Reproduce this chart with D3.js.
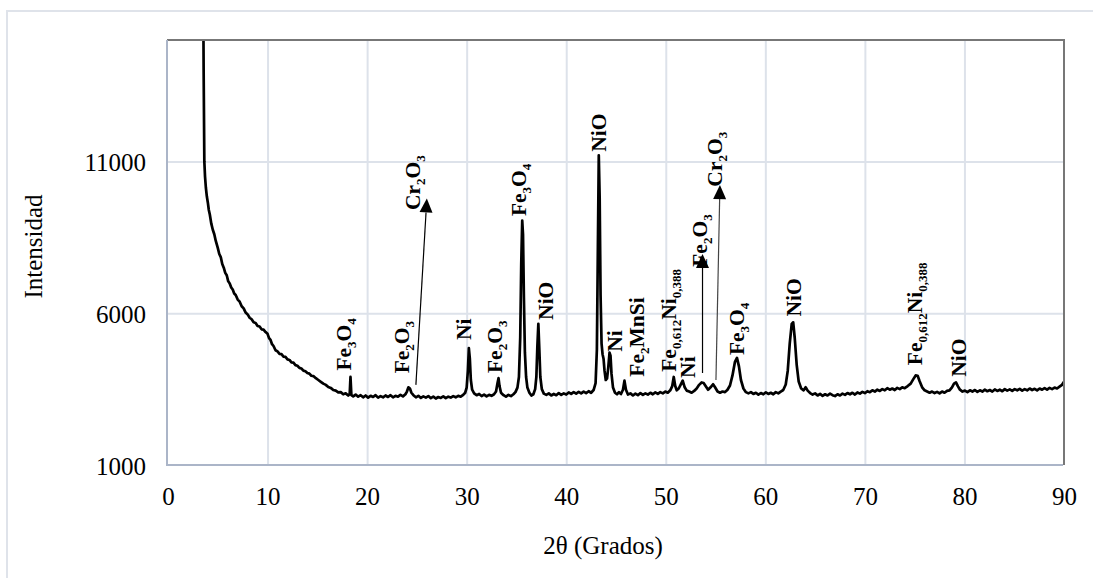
<!DOCTYPE html>
<html>
<head>
<meta charset="utf-8">
<script src="https://cdn.jsdelivr.net/npm/d3@7"></script>
<style>
  body { margin: 0; background: #fff; }
  text { font-family: "Liberation Serif", "Times New Roman", serif; }
</style>
</head>
<body>
<svg id="chart" width="1093" height="578"></svg>
<script>
// ticks
const xTicks = [0, 10, 20, 30, 40, 50, 60, 70, 80, 90];
const yTicks = [1000, 6000, 11000];

// difractograma: [2theta, intensidad]
const scan = [
  [3.5,19000],[3.58,14000],[3.65,11000],[3.72,10500],[3.8,10150],[3.9,9850],[4.0,9650],[4.1,9400],[4.2,9250],
  [4.35,8950],[4.5,8750],[4.65,8600],[4.8,8380],[5.0,8150],[5.15,7950],[5.3,7850],[5.45,7620],[5.6,7500],
  [5.75,7330],[5.9,7250],[6.05,7050],[6.2,6980],[6.35,6850],[6.5,6780],[6.65,6650],[6.8,6600],[7.0,6450],
  [7.2,6380],[7.4,6230],[7.6,6160],[7.8,6020],[8.0,5960],[8.2,5850],[8.4,5800],[8.6,5700],[8.8,5680],
  [9.0,5580],[9.2,5560],[9.4,5470],[9.6,5460],[9.8,5380],[10.0,5320],[10.15,5180],[10.3,5120],[10.45,4980],
  [10.6,4920],[10.8,4780],[11.0,4740],[11.2,4660],[11.4,4650],[11.6,4570],[11.8,4560],[12.0,4480],[12.2,4460],
  [12.4,4380],[12.6,4370],[12.8,4290],[13.0,4270],[13.2,4200],[13.4,4180],[13.6,4110],[13.8,4090],[14.0,4030],
  [14.2,4010],[14.4,3940],[14.6,3930],[14.85,3860],[15.1,3800],[15.35,3740],[15.6,3680],[15.85,3640],[16.1,3570],
  [16.35,3540],[16.6,3470],[16.85,3450],[17.1,3390],[17.35,3400],[17.6,3330],[17.85,3360],[18.1,3290],[18.25,3340],
  [18.33,3900],[18.42,3300],[18.6,3260],[18.85,3320],[19.1,3250],[19.35,3300],[19.6,3230],[19.85,3290],[20.1,3220],
  [20.35,3280],[20.6,3240],[20.85,3300],[21.1,3220],[21.35,3270],[21.6,3230],[21.85,3290],[22.1,3240],[22.35,3300],
  [22.6,3230],[22.85,3280],[23.1,3250],[23.35,3310],[23.6,3260],[23.85,3330],[24.0,3420],[24.15,3560],[24.3,3520],
  [24.45,3380],[24.65,3300],[24.9,3230],[25.15,3280],[25.4,3210],[25.65,3260],[25.9,3220],[26.15,3270],[26.4,3200],
  [26.65,3250],[26.9,3190],[27.15,3240],[27.4,3210],[27.65,3260],[27.9,3200],[28.15,3250],[28.4,3220],[28.65,3270],
  [28.9,3230],[29.15,3280],[29.4,3250],[29.65,3310],[29.85,3380],[30.0,3550],[30.12,4100],[30.22,4850],[30.32,4500],
  [30.42,3800],[30.55,3480],[30.75,3360],[31.0,3300],[31.25,3340],[31.5,3270],[31.75,3320],[32.0,3260],[32.25,3310],
  [32.5,3280],[32.75,3330],[32.95,3420],[33.1,3700],[33.2,3860],[33.3,3600],[33.45,3380],[33.7,3300],[33.95,3250],
  [34.2,3310],[34.45,3270],[34.7,3330],[34.9,3400],[35.1,3550],[35.25,3900],[35.38,5200],[35.48,7600],[35.58,9050],
  [35.66,8600],[35.75,6500],[35.85,4700],[35.97,3900],[36.1,3550],[36.3,3380],[36.5,3290],[36.7,3330],[36.88,3500],
  [37.0,3900],[37.1,4900],[37.2,5650],[37.3,4800],[37.4,3900],[37.55,3500],[37.75,3350],[38.0,3310],[38.25,3360],
  [38.5,3290],[38.75,3340],[39.0,3300],[39.25,3370],[39.5,3310],[39.75,3360],[40.0,3320],[40.25,3390],[40.5,3340],
  [40.75,3400],[41.0,3350],[41.25,3410],[41.5,3360],[41.75,3420],[42.0,3370],[42.25,3430],[42.5,3380],[42.75,3470],
  [42.95,3700],[43.08,4800],[43.18,8200],[43.27,11200],[43.36,9800],[43.45,6600],[43.55,5000],[43.65,4650],[43.75,4500],
  [43.85,4100],[43.97,3800],[44.1,3850],[44.22,4200],[44.35,4700],[44.45,4600],[44.55,4000],[44.7,3550],[44.9,3380],
  [45.1,3330],[45.3,3400],[45.5,3340],[45.7,3480],[45.85,3780],[46.0,3480],[46.2,3320],[46.45,3360],[46.7,3290],
  [46.95,3350],[47.2,3300],[47.45,3370],[47.7,3310],[47.95,3360],[48.2,3320],[48.45,3380],[48.7,3330],[48.95,3390],
  [49.2,3340],[49.45,3400],[49.7,3360],[49.95,3420],[50.2,3380],[50.45,3460],[50.65,3600],[50.8,3900],[50.95,3600],
  [51.1,3460],[51.3,3520],[51.5,3650],[51.7,3780],[51.9,3560],[52.1,3450],[52.35,3420],[52.6,3380],[52.85,3440],
  [53.1,3520],[53.35,3640],[53.6,3720],[53.8,3700],[54.0,3600],[54.25,3480],[54.5,3560],[54.75,3660],[54.95,3560],
  [55.2,3420],[55.45,3380],[55.7,3420],[55.95,3400],[56.2,3480],[56.45,3620],[56.7,3950],[56.95,4400],[57.15,4530],
  [57.35,4250],[57.55,3800],[57.8,3520],[58.05,3400],[58.3,3360],[58.55,3400],[58.8,3340],[59.05,3380],[59.3,3320],
  [59.55,3370],[59.8,3330],[60.05,3390],[60.3,3340],[60.55,3380],[60.8,3330],[61.05,3400],[61.3,3360],[61.55,3420],
  [61.8,3470],[62.05,3650],[62.25,4100],[62.45,5000],[62.65,5650],[62.8,5700],[62.95,5200],[63.15,4300],[63.35,3750],
  [63.6,3520],[63.85,3460],[64.05,3560],[64.25,3450],[64.5,3370],[64.75,3320],[65.0,3360],[65.25,3290],[65.5,3340],
  [65.75,3280],[66.0,3330],[66.25,3290],[66.5,3350],[66.75,3300],[67.0,3270],[67.25,3330],[67.5,3290],[67.75,3350],
  [68.0,3310],[68.25,3370],[68.5,3330],[68.75,3380],[69.0,3320],[69.25,3390],[69.5,3350],[69.75,3410],[70.0,3370],
  [70.25,3430],[70.5,3400],[70.75,3460],[71.0,3420],[71.25,3480],[71.5,3440],[71.75,3500],[72.0,3460],[72.25,3530],
  [72.5,3480],[72.75,3520],[73.0,3470],[73.25,3540],[73.5,3500],[73.75,3560],[74.0,3530],[74.3,3600],[74.6,3680],
  [74.85,3820],[75.1,3950],[75.3,3940],[75.5,3760],[75.75,3560],[76.0,3460],[76.25,3420],[76.5,3380],[76.75,3420],
  [77.0,3370],[77.25,3410],[77.5,3360],[77.75,3420],[78.0,3380],[78.25,3440],[78.5,3460],[78.75,3560],[78.95,3680],
  [79.15,3720],[79.35,3590],[79.55,3480],[79.8,3420],[80.05,3450],[80.3,3400],[80.55,3460],[80.8,3420],[81.05,3470],
  [81.3,3410],[81.55,3460],[81.8,3420],[82.05,3480],[82.3,3430],[82.55,3470],[82.8,3420],[83.05,3490],[83.3,3440],
  [83.55,3480],[83.8,3430],[84.05,3500],[84.3,3450],[84.55,3490],[84.8,3440],[85.05,3500],[85.3,3460],[85.55,3510],
  [85.8,3450],[86.05,3500],[86.3,3460],[86.55,3520],[86.8,3470],[87.05,3510],[87.3,3460],[87.55,3520],[87.8,3480],
  [88.05,3530],[88.3,3480],[88.55,3540],[88.8,3500],[89.05,3550],[89.3,3520],[89.55,3580],[89.8,3640],[90.0,3740]
];

// fases identificadas: partes del nombre (pares = normal, impares = subindice)
const phaseNames = [
  ["Fe","3","O","4"], ["Fe","2","O","3"], ["Ni"], ["Fe","2","O","3"], ["Fe","3","O","4"], ["NiO"],
  ["Cr","2","O","3"], ["NiO"], ["Ni"], ["Fe","2","MnSi"], ["Fe","0,612","Ni","0,388"], ["Ni"],
  ["Fe","2","O","3"], ["Cr","2","O","3"], ["Fe","3","O","4"], ["NiO"], ["Fe","0,612","Ni","0,388"], ["NiO"]
];
// donde empieza cada etiqueta [2theta, intensidad]
const phaseAt = [
  [18.4,4110], [24.2,4020], [30.4,5120], [33.55,4030], [35.95,9200], [38.65,5780],
  [25.3,9400], [43.95,11320], [45.6,4730], [47.8,3910], [51.0,4070], [52.95,3870],
  [54.15,7530], [55.65,10170], [57.85,4620], [63.6,5890], [75.75,4290], [80.15,3910]
];
// flechas [desde, hasta]
const arrowFrom = [[24.9,3640], [53.69,4030], [55.04,3800]];
const arrowTo = [[26.0,9780], [53.69,7950], [55.44,10220]];

const svg = d3.select("#chart");
const m = { left: 168, right: 1064, top: 40, bottom: 465 };

const x = d3.scaleLinear().domain([0, 90]).range([m.left, m.right]);
const y = d3.scaleLinear().domain([1000, 15000]).range([m.bottom, m.top]);

// marco exterior
svg.append("rect")
  .attr("x", 7).attr("y", 11)
  .attr("width", 1200).attr("height", 700)
  .attr("fill", "none")
  .attr("stroke", "#dfe3ea")
  .attr("stroke-width", 2);

// rejilla
svg.append("g")
  .attr("transform", `translate(0,${m.bottom})`)
  .call(d3.axisBottom(x).tickValues(xTicks.slice(1, -1)).tickSize(-(m.bottom - m.top)).tickFormat(""))
  .call(g => g.select(".domain").remove())
  .call(g => g.selectAll("line").attr("stroke", "#dde2ea").attr("stroke-width", 2));

svg.append("g")
  .attr("transform", `translate(${m.left},0)`)
  .call(d3.axisLeft(y).tickValues(yTicks.slice(1)).tickSize(-(m.right - m.left)).tickFormat(""))
  .call(g => g.select(".domain").remove())
  .call(g => g.selectAll("line").attr("stroke", "#dde2ea").attr("stroke-width", 2));

// curva
svg.append("clipPath").attr("id", "plot")
  .append("rect")
  .attr("x", m.left).attr("y", m.top)
  .attr("width", m.right - m.left).attr("height", m.bottom - m.top);

const line = d3.line()
  .x(d => x(d[0]))
  .y(d => y(d[1]));

svg.append("path")
  .datum(scan)
  .attr("clip-path", "url(#plot)")
  .attr("d", line)
  .attr("fill", "none")
  .attr("stroke", "#000")
  .attr("stroke-width", 2.7)
  .attr("stroke-linejoin", "round");

// bordes
svg.append("line")
  .attr("x1", m.left - 1).attr("x2", m.right + 1).attr("y1", m.top).attr("y2", m.top)
  .attr("stroke", "#777").attr("stroke-width", 2);
svg.append("line")
  .attr("x1", m.right).attr("x2", m.right).attr("y1", m.top).attr("y2", m.bottom)
  .attr("stroke", "#777").attr("stroke-width", 2);
svg.append("line")
  .attr("x1", m.left - 1).attr("x2", m.left - 1).attr("y1", m.top).attr("y2", m.bottom + 1)
  .attr("stroke", "#abb5c8").attr("stroke-width", 2);
svg.append("line")
  .attr("x1", m.left - 2).attr("x2", m.right - 1).attr("y1", m.bottom).attr("y2", m.bottom)
  .attr("stroke", "#abb5c8").attr("stroke-width", 2);

// flechas
arrowFrom.forEach((p, i) => {
  const x0 = x(p[0]), y0 = y(p[1]);
  const x1 = x(arrowTo[i][0]), y1 = y(arrowTo[i][1]);
  const len = Math.hypot(x1 - x0, y1 - y0);
  const ux = (x1 - x0) / len, uy = (y1 - y0) / len;
  const bx = x1 - ux * 14, by = y1 - uy * 14;
  const col = i === 2 ? "#444" : "#000";
  svg.append("line")
    .attr("x1", x0).attr("y1", y0).attr("x2", bx).attr("y2", by)
    .attr("stroke", col).attr("stroke-width", 1.2);
  svg.append("path")
    .attr("d", `M${x1},${y1}L${bx - uy * 6.5},${by + ux * 6.5}L${bx + uy * 6.5},${by - ux * 6.5}Z`)
    .attr("fill", "#000");
});

// etiquetas de fases
phaseNames.forEach((parts, i) => {
  const t = svg.append("text")
    .attr("transform", `translate(${x(phaseAt[i][0])},${y(phaseAt[i][1])}) rotate(-90)`)
    .attr("font-weight", "bold")
    .attr("font-size", 21.5)
    .attr("fill", "#000");
  parts.forEach((s, j) => {
    const sub = j % 2 === 1;
    t.append("tspan")
      .attr("font-size", sub ? 13 : 21.5)
      .attr("dy", sub ? 5 : (j > 0 ? -5 : 0))
      .text(s);
  });
});

// ejes
svg.append("g")
  .attr("transform", `translate(0,${m.bottom})`)
  .call(d3.axisBottom(x).tickValues(xTicks).tickSize(0).tickPadding(22))
  .call(g => g.select(".domain").remove())
  .call(g => g.selectAll("text")
    .attr("font-size", 25)
    .attr("fill", "#000"));

svg.append("g")
  .attr("transform", `translate(${m.left},0)`)
  .call(d3.axisLeft(y).tickValues(yTicks).tickFormat(d3.format("d")).tickSize(0).tickPadding(22))
  .call(g => g.select(".domain").remove())
  .call(g => g.selectAll("text")
    .attr("font-size", 25)
    .attr("dy", "0.38em")
    .attr("fill", "#000"));

// titulos
svg.append("text")
  .attr("x", 603).attr("y", 554)
  .attr("text-anchor", "middle")
  .attr("font-size", 25)
  .text("2θ (Grados)");

svg.append("text")
  .attr("transform", "translate(41.5,246.5) rotate(-90)")
  .attr("text-anchor", "middle")
  .attr("font-size", 25)
  .text("Intensidad");
</script>
</body>
</html>
